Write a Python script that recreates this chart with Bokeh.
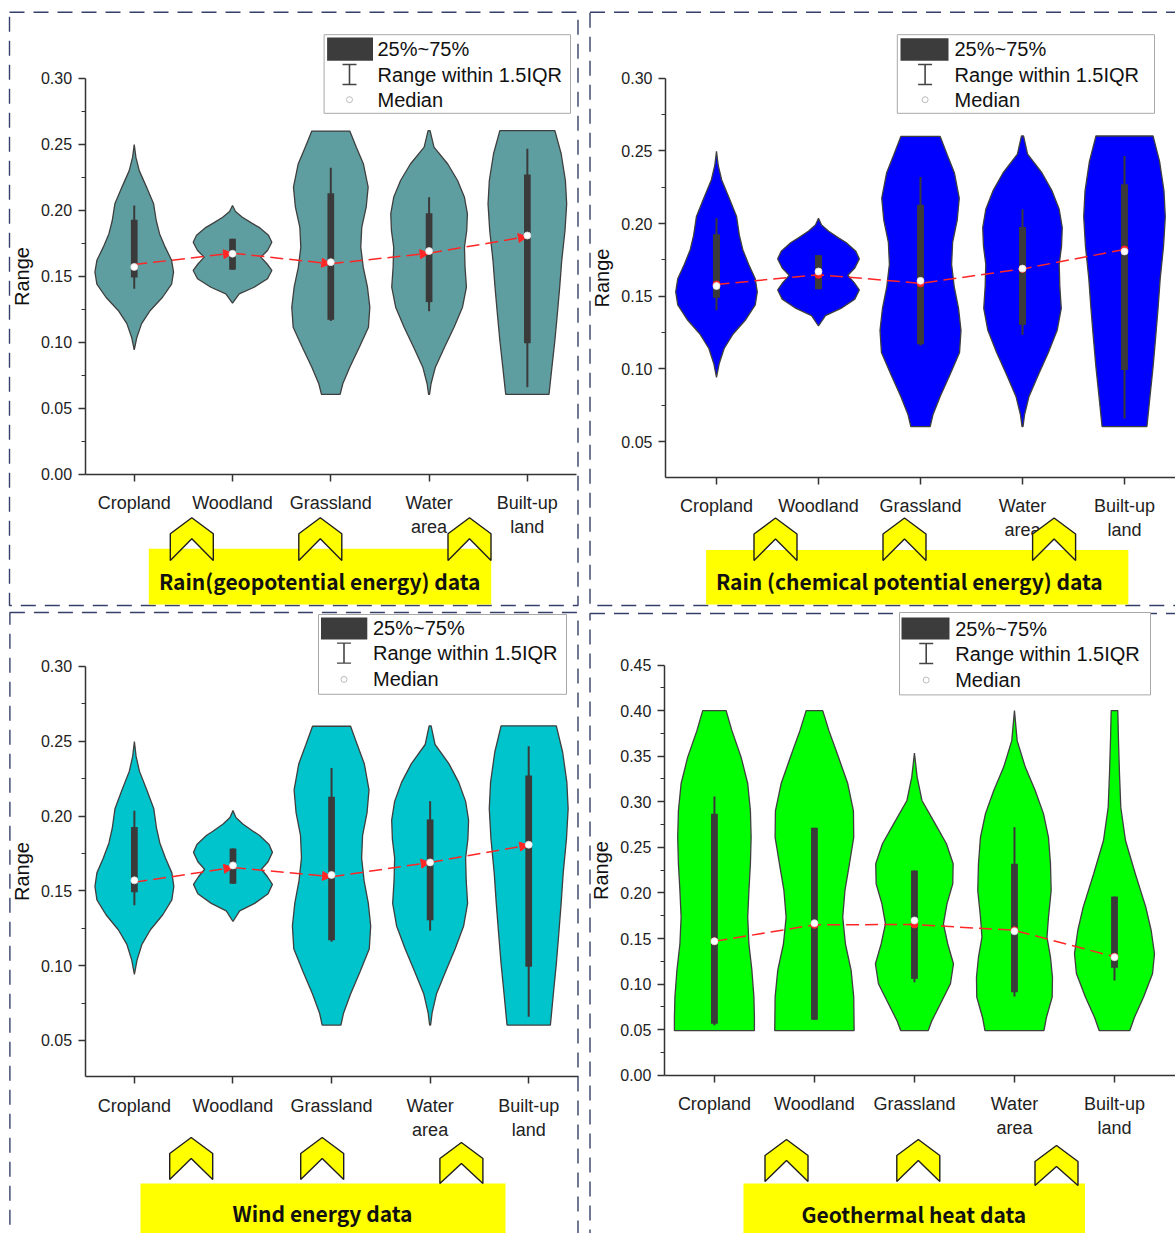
import numpy as np
from bokeh.plotting import figure
from bokeh.models import (ColumnDataSource, FixedTicker, NumeralTickFormatter, BoxAnnotation,
                          PolyAnnotation, Label, Arrow, NormalHead, Range1d)
from bokeh.layouts import column, row
from bokeh.embed import file_html
from bokeh.resources import INLINE

# ---------------- data ----------------
CATEGORIES = ["Cropland", "Woodland", "Grassland", "Water\narea", "Built-up\nland"]
X_POS = [1, 2, 3, 4, 5]

# Violin outlines shared by the rain / wind panels: y levels and half widths (category units)
A_crop_y = [0.2498, 0.240, 0.230, 0.2175, 0.2048, 0.192, 0.182, 0.172, 0.162, 0.153, 0.144, 0.134, 0.124, 0.114, 0.1037, 0.0942]
A_crop_w = [0.0, 0.017, 0.051, 0.125, 0.197, 0.224, 0.258, 0.315, 0.38, 0.40, 0.38, 0.288, 0.163, 0.075, 0.027, 0.0]
A_wood_y = [0.2036, 0.199, 0.1947, 0.190, 0.187, 0.181, 0.1757, 0.1694, 0.1644, 0.1594, 0.1543, 0.148, 0.1416, 0.1366, 0.1295]
A_wood_w = [0.0, 0.03, 0.10, 0.20, 0.27, 0.366, 0.40, 0.356, 0.288, 0.35, 0.40, 0.356, 0.22, 0.068, 0.0]
A_grass_y = [0.260, 0.2478, 0.235, 0.2175, 0.2023, 0.187, 0.172, 0.1568, 0.1416, 0.1265, 0.1113, 0.0961, 0.081, 0.0684, 0.0603]
A_grass_w = [0.193, 0.26, 0.332, 0.38, 0.36, 0.315, 0.305, 0.33, 0.373, 0.397, 0.383, 0.29, 0.193, 0.122, 0.095]
A_water_y = [0.2603, 0.2478, 0.235, 0.2225, 0.2098, 0.1973, 0.1846, 0.172, 0.1568, 0.1416, 0.1265, 0.1113, 0.0961, 0.081, 0.0684, 0.0603]
A_water_w = [0.01, 0.05, 0.19, 0.29, 0.36, 0.39, 0.383, 0.36, 0.366, 0.38, 0.34, 0.254, 0.157, 0.064, 0.02, 0.005]
A_built_y = [0.2603, 0.2428, 0.2225, 0.2048, 0.1846, 0.162, 0.1416, 0.1213, 0.1012, 0.081, 0.0603]
A_built_w = [0.28, 0.344, 0.387, 0.40, 0.383, 0.35, 0.329, 0.305, 0.28, 0.25, 0.22]

A_q1 = [0.149, 0.1548, 0.1169, 0.1303, 0.0992]
A_q3 = [0.1927, 0.1783, 0.2129, 0.1977, 0.2271]
A_lo = [0.1404, 0.1548, 0.116, 0.1234, 0.0658]
A_hi = [0.2036, 0.1783, 0.2321, 0.2099, 0.2466]
A_median = [0.157, 0.167, 0.1606, 0.169, 0.1808]

# Geothermal panel
B_crop_y = [0.400, 0.378, 0.349, 0.320, 0.290, 0.261, 0.232, 0.2027, 0.1734, 0.144, 0.115, 0.0857, 0.0637, 0.0491]
B_crop_w = [0.117, 0.175, 0.267, 0.333, 0.36, 0.367, 0.36, 0.345, 0.333, 0.345, 0.375, 0.395, 0.40, 0.40]
B_wood_y = [0.400, 0.378, 0.349, 0.320, 0.290, 0.261, 0.232, 0.2027, 0.1734, 0.144, 0.115, 0.0857, 0.0491]
B_wood_w = [0.083, 0.145, 0.24, 0.333, 0.39, 0.393, 0.35, 0.305, 0.283, 0.31, 0.367, 0.393, 0.397]
B_grass_y = [0.3533, 0.327, 0.3014, 0.2758, 0.254, 0.232, 0.21, 0.188, 0.1662, 0.144, 0.1223, 0.1004, 0.0784, 0.060, 0.0491]
B_grass_w = [0.0, 0.027, 0.075, 0.208, 0.32, 0.387, 0.383, 0.325, 0.29, 0.333, 0.39, 0.36, 0.26, 0.175, 0.138]
B_water_y = [0.400, 0.367, 0.338, 0.312, 0.287, 0.261, 0.232, 0.2027, 0.1734, 0.1515, 0.1295, 0.1076, 0.0857, 0.0637, 0.0491]
B_water_w = [0.0, 0.027, 0.108, 0.208, 0.29, 0.34, 0.36, 0.367, 0.34, 0.325, 0.36, 0.38, 0.377, 0.32, 0.295]
B_built_y = [0.400, 0.367, 0.3307, 0.294, 0.2575, 0.221, 0.1844, 0.1588, 0.1333, 0.1113, 0.0857, 0.0637, 0.0491]
B_built_w = [0.033, 0.04, 0.05, 0.063, 0.11, 0.208, 0.313, 0.367, 0.40, 0.38, 0.29, 0.2, 0.153]

B_q1 = [0.0565, 0.0609, 0.1058, 0.0912, 0.1179]
B_q3 = [0.2868, 0.2714, 0.2246, 0.232, 0.196]
B_lo = [0.055, 0.0609, 0.102, 0.0864, 0.104]
B_hi = [0.3058, 0.2714, 0.2246, 0.2721, 0.196]
B_median = [0.147, 0.1668, 0.1698, 0.158, 0.1295]

# red dashed mean lines
P1_MEAN = [0.1588, 0.1674, 0.1594, 0.1674, 0.180]
P2_MEAN = [0.1581, 0.1648, 0.1589, 0.1688, 0.1822]
P3_MEAN = [0.1557, 0.1656, 0.1594, 0.169, 0.1806]
P4_MEAN = [0.147, 0.165, 0.1654, 0.159, 0.130]

TICKS_A = [0.00, 0.05, 0.10, 0.15, 0.20, 0.25, 0.30]
TICKS_B = [0.00, 0.05, 0.10, 0.15, 0.20, 0.25, 0.30, 0.35, 0.40, 0.45]

LEGEND_TEXTS = ["25%~75%", "Range within 1.5IQR", "Median"]

A_SHAPES = [(A_crop_y, A_crop_w), (A_wood_y, A_wood_w), (A_grass_y, A_grass_w),
            (A_water_y, A_water_w), (A_built_y, A_built_w)]
B_SHAPES = [(B_crop_y, B_crop_w), (B_wood_y, B_wood_w), (B_grass_y, B_grass_w),
            (B_water_y, B_water_w), (B_built_y, B_built_w)]
A_STATS = (A_q1, A_q3, A_lo, A_hi, A_median)
B_STATS = (B_q1, B_q3, B_lo, B_hi, B_median)

# ---------------- styling ----------------
RED = "#ff2626"
BOXC = "#3a3a3a"
OUTLINE = "#3f3f3f"
FONT = "Liberation Sans"
BANNER_FONT = "Noto Sans CJK SC"
YELLOW = "#ffff00"
DASHC = "#34406a"


def chevron(p, cx, ya, yb, hw=21.5):
    xs = [cx - hw, cx - hw, cx, cx + hw, cx + hw, cx]
    ys = [yb, ya + 16, ya, ya + 16, yb, ya + 21]
    p.add_layout(PolyAnnotation(xs=xs, ys=ys, xs_units="canvas", ys_units="canvas",
                                fill_color=YELLOW, fill_alpha=1.0, line_color="#1e1e1e",
                                line_alpha=1.0, line_width=1.4))


def cbox(p, l, r, t, b, **kw):
    kw.setdefault("line_alpha", 1.0)
    p.add_layout(BoxAnnotation(left=l, right=r, top=t, bottom=b, left_units="canvas",
                               right_units="canvas", top_units="canvas", bottom_units="canvas", **kw))


def clabel(p, x, y, text, size, align="left", bold=False, font=FONT):
    p.add_layout(Label(x=x, y=y, x_units="canvas", y_units="canvas", text=text,
                       text_font=font, text_font_size=size, text_align=align,
                       text_baseline="middle", text_color="#111111",
                       text_font_style="bold" if bold else "normal"))


def make_panel(cfg):
    W, H = cfg["size"]
    pl, pr, pt, pb = cfg["axes_px"]          # pixel position of the axis box inside the canvas
    y0, y1 = cfg["ymin"], cfg["ymax"]
    ux = (pr - pl) / 5.0
    uy = (pb - pt) / (y1 - y0)
    x_end = 5.5 + (W - pr) / ux
    xr = Range1d(0.5 - pl / ux, x_end)
    yr = Range1d(y0 - (H - pb) / uy, y1 + pt / uy)
    p = figure(width=W, height=H, output_backend="svg", toolbar_location=None,
               x_range=xr, y_range=yr, min_border=0, min_border_left=0, min_border_right=0,
               min_border_top=0, min_border_bottom=0)
    p.xgrid.visible = False
    p.ygrid.visible = False
    p.outline_line_color = None
    p.background_fill_color = "white"
    p.border_fill_color = "white"

    # axes, fixed at the corner of the data box
    p.xaxis.fixed_location = y0
    p.yaxis.fixed_location = 0.5
    p.xaxis.bounds = (0.5, x_end if cfg["axis_to_edge"] else 5.5)
    p.yaxis.bounds = (y0, y1)
    p.xaxis.ticker = FixedTicker(ticks=X_POS)
    p.xaxis.major_label_overrides = {x: c for x, c in zip(X_POS, CATEGORIES)}
    ticks = cfg["ticks"]
    minor = [round((a + b) / 2, 4) for a, b in zip(ticks[:-1], ticks[1:])]
    minor = [m for m in minor if m >= y0]
    p.yaxis.ticker = FixedTicker(ticks=ticks, minor_ticks=minor)
    p.yaxis.formatter = NumeralTickFormatter(format="0.00")
    p.yaxis.axis_label = "Range"
    for ax in (p.xaxis[0], p.yaxis[0]):
        ax.axis_line_color = "#333333"
        ax.axis_line_width = 1.5
        ax.major_tick_line_color = "#333333"
        ax.major_tick_line_width = 1.5
        ax.minor_tick_line_color = "#333333"
        ax.major_tick_out = 7
        ax.major_tick_in = 0
        ax.minor_tick_out = 4
        ax.minor_tick_in = 0
        ax.major_label_text_font = FONT
        ax.major_label_text_color = "#222222"
        ax.axis_label_text_font = FONT
        ax.axis_label_text_font_style = "normal"
        ax.axis_label_text_font_size = "20px"
        ax.axis_label_text_color = "#111111"
    p.xaxis.minor_tick_line_color = None
    p.xaxis.major_label_text_font_size = "18px"
    p.xaxis.major_label_standoff = 12
    p.yaxis.major_label_text_font_size = "16px"
    p.yaxis.major_label_standoff = 6
    p.yaxis.axis_label_standoff = 5

    # violins
    vx, vy = [], []
    for c, (ys, ws) in zip(X_POS, cfg["shapes"]):
        vx.append([c + w for w in ws] + [c - w for w in ws[::-1]])
        vy.append(list(ys) + list(ys[::-1]))
    p.patches(vx, vy, fill_color=cfg["color"], line_color=OUTLINE, line_width=1.3)

    q1, q3, lo, hi, med = cfg["stats"]
    p.segment(x0=X_POS, y0=lo, x1=X_POS, y1=hi, line_color=BOXC, line_width=2)
    p.vbar(x=X_POS, width=0.068, bottom=q1, top=q3, fill_color=BOXC, line_color=None)

    means = cfg["means"]
    if cfg["style"] == "arrow":
        src = ColumnDataSource(dict(x0=X_POS[:-1], y0=means[:-1], x1=X_POS[1:], y1=means[1:]))
        p.add_layout(Arrow(end=NormalHead(size=9, fill_color=RED, line_color=RED),
                           x_start="x0", y_start="y0", x_end="x1", y_end="y1", source=src,
                           line_color=RED, line_dash="13 6", line_width=1.5))
    else:
        p.line(X_POS, means, line_color=RED, line_dash="13 6", line_width=1.5)
        p.scatter(X_POS, means, size=7, fill_color=RED, line_color=RED)
    mr_ = p.scatter(X_POS, med, size=7, fill_color="white", line_color="#dddddd", line_width=0.8)
    mr_.level = "overlay"

    # dashed panel border
    bl, br, bt, bb = cfg["frame_border"]
    cbox(p, bl, br, bt, bb, fill_color=None, fill_alpha=0, line_color=DASHC,
         line_dash="15 9", line_width=1.4)

    # legend box
    lg = cfg["legend"]
    cbox(p, lg["box"][0], lg["box"][1], lg["box"][2], lg["box"][3], fill_color="white",
         fill_alpha=1.0, line_color="#a8a8a8", line_width=1)
    r = lg["rect"]
    cbox(p, r[0], r[1], r[2], r[3], fill_color="#3c3c3c", fill_alpha=1.0, line_color=None)
    ix = lg["icon_x"]
    r2 = lg["rows"][1]
    cbox(p, ix - 0.8, ix + 0.8, r2 - 10, r2 + 10, fill_color="#444444", fill_alpha=1.0, line_color=None)
    cbox(p, ix - 7, ix + 7, r2 - 10.7, r2 - 9.3, fill_color="#444444", fill_alpha=1.0, line_color=None)
    cbox(p, ix - 7, ix + 7, r2 + 9.3, r2 + 10.7, fill_color="#444444", fill_alpha=1.0, line_color=None)
    r3 = lg["rows"][2]
    cbox(p, ix - 3, ix + 3, r3 - 3, r3 + 3, fill_color="white", fill_alpha=1.0,
         line_color="#bbbbbb", line_width=1, border_radius=3)
    for txt, ry in zip(LEGEND_TEXTS, lg["rows"]):
        clabel(p, lg["tx"], ry, txt, "20px")

    # banner + chevrons
    b = cfg["banner"]
    cbox(p, b[0], b[1], b[2], b[3], fill_color=YELLOW, fill_alpha=1.0, line_color=None)
    for cx, ya, yb in cfg["chevrons"]:
        chevron(p, cx, ya, yb)
    tx, ty, text = cfg["banner_text"]
    clabel(p, tx, ty, text, "21px", align="center", bold=True, font=BANNER_FONT)
    return p


P1 = dict(size=(588, 610), axes_px=(84.6, 576, 77.8, 473.5), axis_to_edge=False,
          ymin=0.0, ymax=0.30, ticks=TICKS_A,
          shapes=A_SHAPES, stats=A_STATS, means=P1_MEAN, color="#5f9ea0", style="arrow",
          frame_border=(9, 577.5, 11.7, 605),
          legend=dict(box=(323.6, 570, 34.2, 112.8), rect=(326.6, 372.5, 37, 60.3), tx=377,
                      rows=(48.6, 74, 99.2), icon_x=349),
          banner=(148.3, 490.7, 548.3, 604), banner_text=(319.2, 580, "Rain(geopotential energy) data"),
          chevrons=[(191.3, 517.3, 560), (319.8, 517.3, 560), (469, 517.3, 560)])

P2 = dict(size=(587, 610), axes_px=(77, 587, 77.8, 476.6), axis_to_edge=True,
          ymin=0.0255, ymax=0.30, ticks=TICKS_A[1:],
          shapes=A_SHAPES, stats=A_STATS, means=P2_MEAN, color="#0000ff", style="dot",
          frame_border=(1.5, 700, 11.7, 605),
          legend=dict(box=(308.8, 566, 34.2, 112.8), rect=(312, 360, 37.7, 60.3), tx=366,
                      rows=(48.6, 74, 99.2), icon_x=336.6),
          banner=(117.6, 539.8, 549.4, 604),
          banner_text=(320.8, 580, "Rain (chemical potential energy) data"),
          chevrons=[(187, 517.5, 560), (316, 517.5, 560), (465.6, 517.5, 560)])

P3 = dict(size=(588, 623), axes_px=(84.6, 577.5, 55.9, 466.3), axis_to_edge=False,
          ymin=0.0257, ymax=0.30, ticks=TICKS_A[1:],
          shapes=A_SHAPES, stats=A_STATS, means=P3_MEAN, color="#00c4cc", style="arrow",
          frame_border=(9.4, 577.5, 2, 700),
          legend=dict(box=(318, 566, 4, 83.8), rect=(320.5, 366.8, 7, 29), tx=372.5,
                      rows=(17.5, 42.6, 68.9), icon_x=343.5),
          banner=(140, 505, 573, 700), banner_text=(322, 602.6, "Wind energy data"),
          chevrons=[(190.7, 527, 569), (321.7, 527, 569), (460.9, 532, 573)])

P4 = dict(size=(587, 623), axes_px=(75.9, 576, 54.5, 464.8), axis_to_edge=True,
          ymin=0.0, ymax=0.45, ticks=TICKS_B,
          shapes=B_SHAPES, stats=B_STATS, means=P4_MEAN, color="#00ff00", style="dot",
          frame_border=(1.5, 700, 3, 700),
          legend=dict(box=(311, 562, 2, 84.4), rect=(313, 361, 7, 29), tx=366.7,
                      rows=(18, 43, 69.6), icon_x=337.7),
          banner=(155, 496.5, 573, 700), banner_text=(325.3, 603, "Geothermal heat data"),
          chevrons=[(198, 529, 571), (329.8, 529, 571), (468, 535, 575)])

layout = column(row(make_panel(P1), make_panel(P2)), row(make_panel(P3), make_panel(P4)))

with open("out.html", "w") as f:
    f.write(file_html(layout, INLINE))
